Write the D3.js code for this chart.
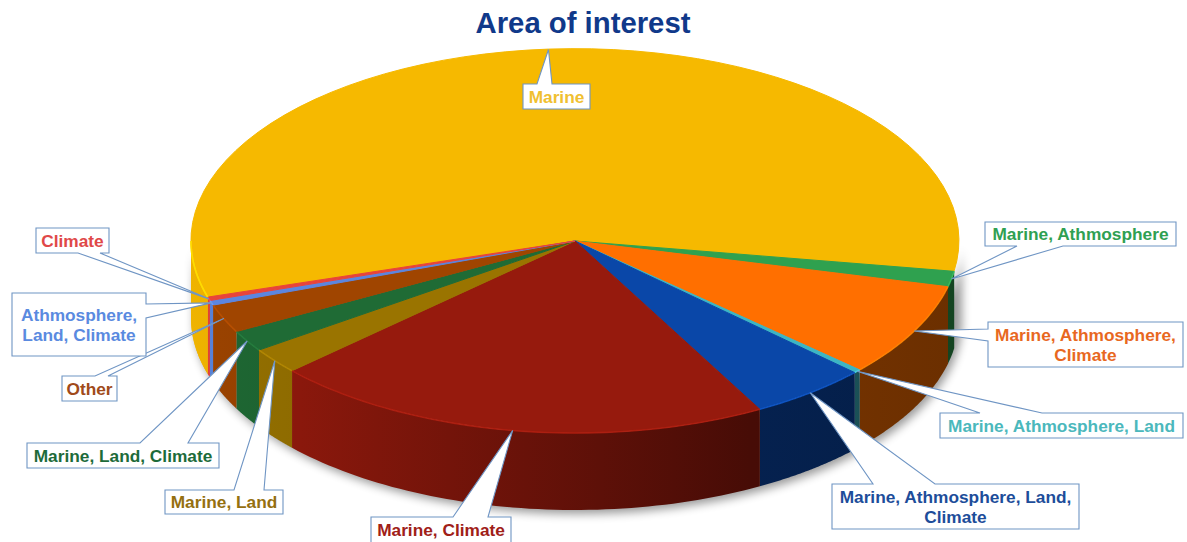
<!DOCTYPE html>
<html>
<head>
<meta charset="utf-8">
<script src="https://cdn.jsdelivr.net/npm/d3@7"></script>
<style>
  html, body { margin: 0; padding: 0; background: #fff; overflow: hidden; }
  text { font-family: "Liberation Sans", Arial, sans-serif; font-weight: bold; }
</style>
</head>
<body>
<svg id="chart" width="1187" height="542"></svg>
<script>
const categories = ["Marine", "Marine, Athmosphere", "Marine, Athmosphere, Climate", "Marine, Athmosphere, Land",
    "Marine, Athmosphere, Land, Climate", "Marine, Climate", "Marine, Land", "Marine, Land, Climate",
    "Other", "Athmosphere, Land, Climate", "Climate"];
const values = [57.3, 1.3, 7.9, 0.3, 5.0, 21.2, 2.2, 1.8, 2.4, 0.4, 0.3];
const sliceColors = ["#f6b900", "#2fa14f", "#ff6f00", "#3cb5c4", "#0a47a8", "#961a0d",
    "#9a7400", "#1f6b35", "#a04500", "#5b86e0", "#e8443a"];
const textColors = ["#f0c030", "#2fa052", "#e8681f", "#4bb8bc", "#1d4d9a", "#a02018",
    "#957010", "#1d6b3a", "#a04a1a", "#5a8ae0", "#e04848"];

// label boxes, same order as categories. base = where the pointer leaves the box
const callouts = [
    { x: 523, y: 84, w: 67, h: 25, side: "top", base: [537, 552], wrap: 1 },
    { x: 985, y: 222, w: 191, h: 24, side: "bottom", base: [1017, 1063], wrap: 2 },
    { x: 988, y: 322, w: 195, h: 45, side: "left", base: [329, 341], wrap: 2 },
    { x: 940, y: 413, w: 243, h: 25, side: "top", base: [980, 1042], wrap: 3 },
    { x: 832, y: 484, w: 247, h: 45, side: "top", base: [873, 935], wrap: 3 },
    { x: 371, y: 517, w: 140, h: 26, side: "top", base: [453, 488], wrap: 2 },
    { x: 165, y: 490, w: 118, h: 24, side: "top", base: [234, 264], wrap: 2 },
    { x: 27, y: 443, w: 192, h: 25, side: "top", base: [140, 188], wrap: 3 },
    { x: 62, y: 376, w: 55, h: 25, side: "top", base: [95, 108], wrap: 1 },
    { x: 12, y: 293, w: 134, h: 63, side: "right", base: [304, 318], wrap: 1 },
    { x: 36, y: 228, w: 73, h: 25, side: "bottom", base: [78, 100], wrap: 1 }
];

const cx = 575, cy = 241, rx = 384, ry = 192, depth = 77;
const deg = Math.PI / 180;

const svg = d3.select("#chart");
const defs = svg.append("defs");

const blur = defs.append("filter").attr("id", "shadow")
    .attr("x", "-5%").attr("y", "-10%").attr("width", "110%").attr("height", "125%");
blur.append("feGaussianBlur").attr("stdDeviation", 5);

// d3.pie angles run clockwise from north, the ellipse parameter from east
const pieData = d3.pie().sort(null).startAngle(253 * deg).endAngle(613 * deg)(values);
const toParam = a => a - Math.PI / 2;
const rimX = t => cx + rx * Math.cos(t);
const rimY = t => cy + ry * Math.sin(t);

// part of a slice that faces the viewer (param between 0 and 180 deg, modulo turn)
function frontRange(d) {
    let t0 = toParam(d.startAngle), t1 = toParam(d.endAngle);
    const turns = Math.floor(t0 / (2 * Math.PI));
    t0 -= turns * 2 * Math.PI; t1 -= turns * 2 * Math.PI;
    if (t0 >= Math.PI) {
        if (t1 <= 2 * Math.PI) return null;
        return [2 * Math.PI, Math.min(t1, 3 * Math.PI)];
    }
    return [t0, Math.min(t1, Math.PI)];
}
const sampleRange = r => d3.range(0, 61).map(i => r[0] + (r[1] - r[0]) * i / 60);

const gradientStops = [191, 300, 750, 959];
const shade = d3.scaleLinear().domain(gradientStops).range([0.97, 0.92, 0.47, 0.42]);

const wallArea = d3.area().x(rimX).y0(rimY).y1(t => rimY(t) + depth);
const rimLine = d3.line().x(rimX).y(rimY);

const walls = pieData.map((d, i) => {
    const range = frontRange(d);
    return range ? { i, range, color: sliceColors[i] } : null;
}).filter(Boolean);
// marine wraps round both ends, so it gets its left wall too
walls.push({ i: 0, range: [163 * deg, Math.PI], color: sliceColors[0] });

// soft shadow under the drum
svg.append("path")
    .attr("d", wallArea(sampleRange([0, Math.PI])))
    .attr("transform", "translate(3,4)")
    .attr("fill", "#000")
    .attr("opacity", 0.4)
    .attr("filter", "url(#shadow)");

walls.forEach((w, k) => {
    const c = d3.rgb(w.color);
    const grad = defs.append("linearGradient").attr("id", `wall-${k}`)
        .attr("gradientUnits", "userSpaceOnUse")
        .attr("x1", 191).attr("x2", 959).attr("y1", 0).attr("y2", 0);
    gradientStops.forEach(x => {
        grad.append("stop")
            .attr("offset", (x - 191) / (959 - 191))
            .attr("stop-color", d3.rgb(c.r * shade(x), c.g * shade(x), c.b * shade(x)).formatHex());
    });
});

svg.append("g").selectAll("path")
    .data(walls)
    .join("path")
    .attr("d", d => wallArea(sampleRange(d.range)))
    .attr("fill", (d, k) => `url(#wall-${k})`);

const arc = d3.arc().innerRadius(0).outerRadius(1);
svg.append("g")
    .attr("transform", `translate(${cx},${cy}) scale(${rx},${ry})`)
    .selectAll("path")
    .data(pieData)
    .join("path")
    .attr("d", arc)
    .attr("fill", (d, i) => sliceColors[i])
    .attr("stroke", (d, i) => sliceColors[i])
    .attr("stroke-width", 1)
    .attr("vector-effect", "non-scaling-stroke");

// lighter bevel along the front rim
svg.append("g").selectAll("path")
    .data(walls)
    .join("path")
    .attr("d", d => rimLine(sampleRange(d.range)))
    .attr("fill", "none")
    .attr("stroke", d => d3.rgb(d.color).brighter(0.5).formatHex())
    .attr("stroke-width", 1.6)
    .attr("opacity", 0.75);

// callouts: box and pointer are one outline, tip sits on the rim at the slice middle
function calloutPoints(c, tip) {
    const x1 = c.x + c.w, y1 = c.y + c.h;
    const [a, b] = c.base;
    if (c.side === "top") return [[c.x, c.y], [a, c.y], tip, [b, c.y], [x1, c.y], [x1, y1], [c.x, y1]];
    if (c.side === "bottom") return [[c.x, c.y], [x1, c.y], [x1, y1], [b, y1], tip, [a, y1], [c.x, y1]];
    if (c.side === "left") return [[c.x, c.y], [x1, c.y], [x1, y1], [c.x, y1], [c.x, b], tip, [c.x, a]];
    return [[c.x, c.y], [x1, c.y], [x1, a], tip, [x1, b], [x1, y1], [c.x, y1]];
}

const outline = d3.line().curve(d3.curveLinearClosed);
const labels = svg.append("g").selectAll("g")
    .data(pieData)
    .join("g");

labels.append("path")
    .attr("d", (d, i) => {
        const mid = toParam((d.startAngle + d.endAngle) / 2);
        return outline(calloutPoints(callouts[i], [rimX(mid), rimY(mid)]));
    })
    .attr("fill", "#fff")
    .attr("stroke", "#6f95c4")
    .attr("stroke-width", 1.1);

labels.each(function (d, i) {
    const c = callouts[i];
    const words = categories[i].split(" ");
    const lines = [words.slice(0, c.wrap).join(" "), words.slice(c.wrap).join(" ")].filter(s => s);
    const lineH = 20;
    const y0 = c.y + c.h / 2 - (lines.length - 1) * lineH / 2;
    d3.select(this).selectAll("text")
        .data(lines)
        .join("text")
        .attr("x", c.x + c.w / 2)
        .attr("y", (s, k) => y0 + k * lineH)
        .attr("dy", ".36em")
        .attr("text-anchor", "middle")
        .attr("fill", textColors[i])
        .style("font-size", "17.3px")
        .text(s => s);
});

svg.append("text")
    .attr("x", 583)
    .attr("y", 33)
    .attr("text-anchor", "middle")
    .attr("fill", "#10398a")
    .style("font-size", "29.3px")
    .text("Area of interest");
</script>
</body>
</html>
